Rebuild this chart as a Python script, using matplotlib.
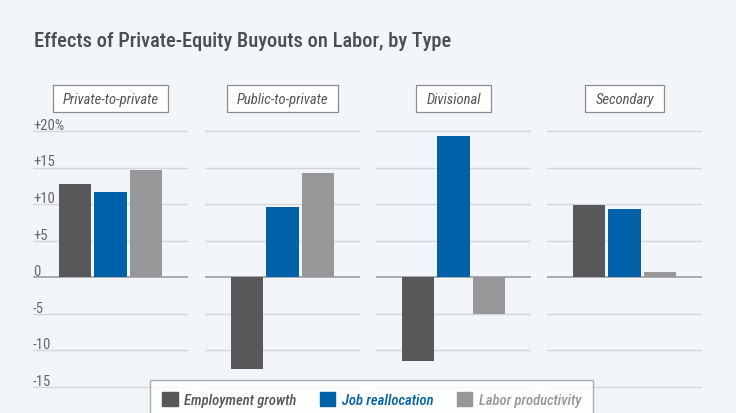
import matplotlib
matplotlib.use("Agg")
import matplotlib.pyplot as plt
import matplotlib.transforms as mtransforms
from matplotlib.patches import Patch

plt.rcParams['font.family'] = ['Roboto Condensed', 'Liberation Sans Narrow', 'DejaVu Sans']

title = "Effects of Private-Equity Buyouts on Labor, by Type"
panels = ["Private-to-private", "Public-to-private", "Divisional", "Secondary"]
series = ["Employment growth", "Job reallocation", "Labor productivity"]
employment = [12.8, -12.6, -11.5, 9.85]
reallocation = [11.7, 9.6, 19.3, 9.4]
productivity = [14.65, 14.2, -5.05, 0.7]
yticks = [20, 15, 10, 5, 0, -5, -10, -15]
ytick_labels = ["+20%", "+15", "+10", "+5", "0", "-5", "-10", "-15"]

colors = ["#58585a", "#0061a8", "#979799"]
text_colors = ["#58585a", "#0061a8", "#979799"]
bg = "#f2f6fa"

fig = plt.figure(figsize=(7.36, 4.14), dpi=100, facecolor=bg)
fig.text(34/736, 1 - 47/414, title, fontsize=14.7, fontweight="medium", color="#4a4d52",
         ha="left", va="baseline")

W, H = 736, 414
lefts = [33, 205, 376, 547]
pw = 155
top_px, bot_px = 124.7, 395.3
data = list(zip(employment, reallocation, productivity))
for i, (name, vals) in enumerate(zip(panels, data)):
    ax = fig.add_axes([lefts[i]/W, 1 - bot_px/H, pw/W, (bot_px - top_px)/H])
    ax.set_facecolor(bg)
    ax.set_ylim(-16, 21)
    ax.set_xlim(-1.21, 3.21)
    for s in ax.spines.values():
        s.set_visible(False)
    ax.set_yticks(yticks)
    ax.set_xticks([])
    ax.tick_params(left=False, labelleft=False)
    for t in yticks:
        ax.axhline(t, color="#969696" if t == 0 else "#d3d6da", lw=1.1 if t == 0 else 1.0, zorder=1)
    ax.bar(range(3), vals, width=0.915, color=colors, zorder=3)
    ax.text(0.5, 1.093, name, transform=ax.transAxes, ha="center", va="center",
            fontsize=10.5, style="italic", color="#555555",
            bbox=dict(boxstyle="square,pad=0.68", facecolor="white", edgecolor="#8c8c8c",
                      lw=0.9, mutation_aspect=0.7))
    if i == 0:
        tr = mtransforms.blended_transform_factory(ax.transAxes, ax.transData)
        for t, lab in zip(yticks, ytick_labels):
            ax.text(0.0, t + 0.3, lab, transform=tr, ha="left", va="baseline",
                    fontsize=10.5, color="#666666")

handles = [Patch(facecolor=c, edgecolor=c) for c in colors]
leg = fig.legend(handles, series, loc="upper center", bbox_to_anchor=(0.505, 1 - 381/414),
                 ncol=3, frameon=True, fancybox=False, edgecolor="#9a9a9a", facecolor="white",
                 prop=dict(size=10.5, style="italic", weight="medium"), handlelength=1.05,
                 handleheight=1.05, handletextpad=0.45, columnspacing=1.6, borderpad=0.85,
                 borderaxespad=0)
leg.get_frame().set_linewidth(1.0)
for txt, c in zip(leg.get_texts(), text_colors):
    txt.set_color(c)

fig.savefig("out.png", dpi=100, facecolor=bg)
